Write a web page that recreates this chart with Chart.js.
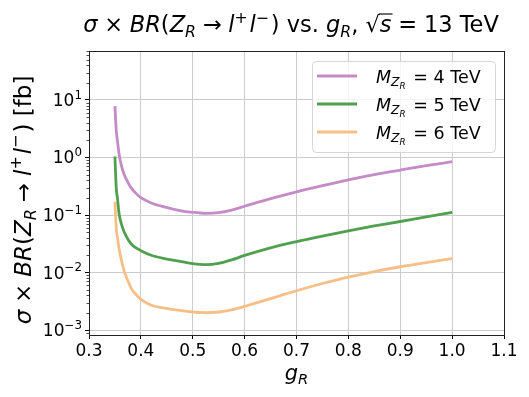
<!DOCTYPE html>
<html>
<head>
<meta charset="utf-8">
<script src="https://cdn.jsdelivr.net/npm/chart.js@4.4.0/dist/chart.umd.min.js"></script>
<style>
  body { margin: 0; background: #fff; }
</style>
</head>
<body>
<canvas id="xsecChart" width="529" height="397"></canvas>
<script>
// g_R values shared by all three curves
const gR = [0.35, 0.3525, 0.355, 0.358, 0.362, 0.368, 0.375, 0.382, 0.39, 0.40, 0.42, 0.445, 0.475,
            0.50, 0.525, 0.55, 0.575, 0.60, 0.65, 0.70, 0.75, 0.80, 0.85, 0.90, 0.95, 1.00];

// sigma x BR in fb
const xsec4TeV = [7.8, 3.0, 1.9, 1.15, 0.75, 0.50, 0.37, 0.29, 0.24, 0.20, 0.162, 0.138, 0.119,
                  0.111, 0.107, 0.110, 0.122, 0.142, 0.192, 0.253, 0.325, 0.41, 0.505, 0.605, 0.72, 0.845];
const xsec5TeV = [1.04, 0.30, 0.19, 0.105, 0.072, 0.050, 0.038, 0.031, 0.027, 0.024, 0.020, 0.0175, 0.0157,
                  0.0143, 0.0137, 0.0144, 0.0166, 0.0198, 0.0268, 0.0344, 0.0431, 0.0531, 0.0644, 0.0771, 0.0931, 0.111];
const xsec6TeV = [0.17, 0.060, 0.040, 0.026, 0.017, 0.0105, 0.0072, 0.0052, 0.0042, 0.0034, 0.0027, 0.0024, 0.0022,
                  0.00206, 0.0020, 0.00206, 0.00225, 0.00258, 0.00352, 0.00482, 0.00644, 0.00835, 0.0104, 0.0126, 0.0149, 0.0174];

const masses = ['4', '5', '6'];
const lineColors = ['#c48bc7', '#50a050', '#f6bf87'];

const xTicks = [0.3, 0.4, 0.5, 0.6, 0.7, 0.8, 0.9, 1.0, 1.1];
const yDecades = [-3, -2, -1, 0, 1];

const FONT = '"DejaVu Sans", sans-serif';

// tiny mathtext-like renderer: segments with italic / sub / sup flags, {g: em} is a gap
function segSize(seg, size) {
    if (seg.s === 'sub' || seg.s === 'sup') return size * 0.7;
    if (seg.s === 'subsub') return size * 0.5;
    return size;
}
function segShift(seg, size) {
    if (seg.s === 'sub') return size * 0.2;
    if (seg.s === 'sup') return -size * 0.42;
    if (seg.s === 'subsub') return size * 0.36;
    return 0;
}
function drawRich(ctx, segs, x, y, size, align) {
    ctx.save();
    ctx.textAlign = 'left';
    ctx.textBaseline = 'alphabetic';
    ctx.fillStyle = '#000';
    const widths = segs.map(seg => {
        if (seg.g) return seg.g * size;
        ctx.font = (seg.i ? 'italic ' : '') + segSize(seg, size).toFixed(1) + 'px ' + FONT;
        return ctx.measureText(seg.t).width;
    });
    const total = widths.reduce((a, b) => a + b, 0);
    let cx = align === 'center' ? x - total / 2 : align === 'right' ? x - total : x;
    segs.forEach((seg, k) => {
        if (!seg.g) {
            ctx.font = (seg.i ? 'italic ' : '') + segSize(seg, size).toFixed(1) + 'px ' + FONT;
            ctx.fillText(seg.t, cx, y + segShift(seg, size));
        }
        if (seg.over) {
            ctx.strokeStyle = '#000';
            ctx.lineWidth = size * 0.05;
            ctx.beginPath();
            ctx.moveTo(cx - 1, y - size * 0.80);
            ctx.lineTo(cx + widths[k] + 1, y - size * 0.80);
            ctx.stroke();
        }
        cx += widths[k];
    });
    ctx.restore();
}

const crossSegs = [
    {t: 'σ', i: 1}, {g: 0.3}, {t: '×'}, {g: 0.3}, {t: 'BR', i: 1}, {t: '('}, {t: 'Z', i: 1}, {t: 'R', i: 1, s: 'sub'},
    {g: 0.3}, {t: '→'}, {g: 0.3}, {t: 'l', i: 1}, {t: '+', s: 'sup'}, {g: 0.08}, {t: 'l', i: 1}, {t: '−', s: 'sup'},
    {g: 0.08}, {t: ')'}
];
const ylabelSegs = crossSegs.concat([{t: ' [fb]'}]);
const titleSegs = crossSegs.concat([
    {t: ' vs. '}, {t: 'g', i: 1}, {t: 'R', i: 1, s: 'sub'}, {t: ', '}, {t: '√'}, {t: 's', i: 1, over: true},
    {g: 0.3}, {t: '='}, {g: 0.3}, {t: '13 TeV'}
]);
const xlabelSegs = [{t: 'g', i: 1}, {t: 'R', i: 1, s: 'sub'}];

const decorations = {
    id: 'decorations',
    afterDraw(chart) {
        const ctx = chart.ctx;
        const area = chart.chartArea;
        const y = chart.scales.y;

        // minor ticks on the log axis
        ctx.save();
        ctx.strokeStyle = '#000';
        ctx.lineWidth = 0.7;
        for (let d = -4; d <= 2; d++) {
            for (let k = 2; k <= 9; k++) {
                const v = k * Math.pow(10, d);
                if (v < y.min || v > y.max) continue;
                const py = Math.round(y.getPixelForValue(v)) + 0.5;
                ctx.beginPath();
                ctx.moveTo(area.left, py);
                ctx.lineTo(area.left - 2.5, py);
                ctx.stroke();
            }
        }
        // spines
        ctx.strokeStyle = '#222';
        ctx.lineWidth = 1;
        ctx.strokeRect(Math.round(area.left) + 0.5, Math.round(area.top) + 0.5,
                       Math.round(area.right - area.left), Math.round(area.bottom - area.top));
        ctx.restore();

        // y tick labels 10^n
        yDecades.forEach(d => {
            const py = y.getPixelForValue(Math.pow(10, d));
            const exp = d < 0 ? '−' + Math.abs(d) : String(d);
            drawRich(ctx, [{t: '10'}, {t: exp, s: 'sup'}], area.left - 7, py + 6, 17, 'right');
        });

        // legend
        const lx = 312, ly = 61, lw = 183, lh = 91;
        ctx.save();
        ctx.fillStyle = 'rgba(255,255,255,0.8)';
        ctx.strokeStyle = 'rgba(204,204,204,0.8)';
        ctx.lineWidth = 1;
        ctx.beginPath();
        ctx.roundRect(lx + 0.5, ly + 0.5, lw, lh, 4);
        ctx.fill();
        ctx.stroke();
        chart.data.datasets.forEach((ds, i) => {
            const ry = 76 + i * 28;
            ctx.strokeStyle = ds.borderColor;
            ctx.lineWidth = 2.8;
            ctx.beginPath();
            ctx.moveTo(317, ry);
            ctx.lineTo(357, ry);
            ctx.stroke();
            drawRich(ctx, [{t: 'M', i: 1}, {t: 'Z', i: 1, s: 'sub'}, {t: 'R', i: 1, s: 'subsub'},
                           {g: 0.12}, {t: ' = ' + masses[i] + ' TeV'}], 376, ry + 6.5, 17.5, 'left');
        });
        ctx.restore();

        // title and axis labels
        drawRich(ctx, titleSegs, 291, 32, 22.5, 'center');
        drawRich(ctx, xlabelSegs, (area.left + area.right) / 2, 380, 21, 'center');
        ctx.save();
        ctx.translate(31, (area.top + area.bottom) / 2 + 7);
        ctx.rotate(-Math.PI / 2);
        drawRich(ctx, ylabelSegs, 0, 0, 23, 'center');
        ctx.restore();
    }
};

const ctx = document.getElementById('xsecChart').getContext('2d');
const xsecChart = new Chart(ctx, {
    type: 'line',
    data: {
        datasets: [xsec4TeV, xsec5TeV, xsec6TeV].map((vals, i) => ({
            label: 'M_Z_R = ' + masses[i] + ' TeV',
            data: gR.map((g, k) => ({x: g, y: vals[k]})),
            borderColor: lineColors[i],
            borderWidth: 2.8,
            pointRadius: 0,
            fill: false,
            cubicInterpolationMode: 'monotone'
        }))
    },
    options: {
        responsive: false,
        animation: false,
        devicePixelRatio: 1,
        layout: { padding: { top: 51, right: 25, left: 0, bottom: 0 } },
        plugins: {
            legend: { display: false },
            title: { display: false },
            tooltip: { enabled: false }
        },
        scales: {
            x: {
                type: 'linear',
                min: 0.3,
                max: 1.1,
                afterBuildTicks: scale => { scale.ticks = xTicks.map(v => ({value: v})); },
                afterFit: scale => { scale.height = 62; },
                border: { display: false },
                grid: { color: '#cccccc', lineWidth: 1, tickColor: '#000', tickLength: 4 },
                ticks: {
                    color: '#000',
                    font: { family: FONT, size: 17 },
                    padding: 2,
                    maxRotation: 0,
                    callback: v => Number(v).toFixed(1)
                }
            },
            y: {
                type: 'logarithmic',
                min: 8.2e-4,
                max: 71,
                afterBuildTicks: scale => { scale.ticks = yDecades.map(d => ({value: Math.pow(10, d)})); },
                afterFit: scale => { scale.width = 89; },
                border: { display: false },
                grid: { color: '#cccccc', lineWidth: 1, tickColor: '#000', tickLength: 4 },
                ticks: { display: false }
            }
        }
    },
    plugins: [decorations]
});
</script>
</body>
</html>
